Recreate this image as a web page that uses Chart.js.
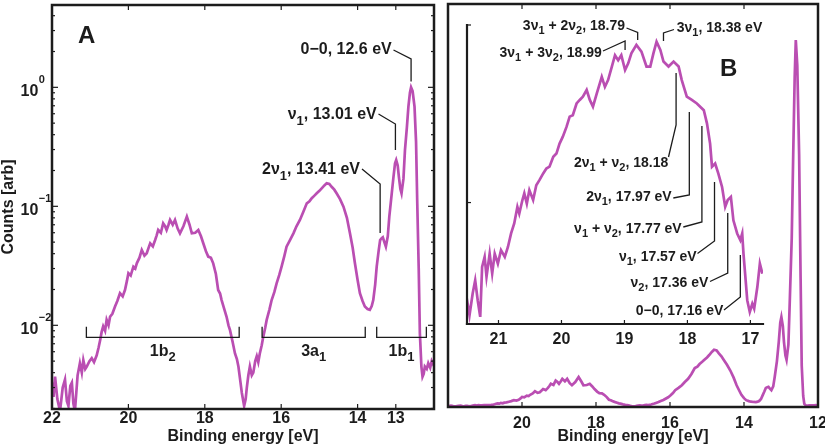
<!DOCTYPE html>
<html><head><meta charset="utf-8">
<script src="https://cdn.jsdelivr.net/npm/chart.js@4/dist/chart.umd.min.js"></script>
<style>
html,body{margin:0;padding:0;background:#fff;}
#wrap{position:relative;width:825px;height:446px;overflow:hidden;}
#wrap canvas{position:absolute;left:0;top:0;}
</style></head><body>
<div id="wrap">
<canvas id="cA" width="825" height="446"></canvas>
<canvas id="cB" width="825" height="446"></canvas>
<canvas id="cI" width="825" height="446"></canvas>
</div>
<script>
// ---------------- data ----------------
const energy = [
 22.00,21.96,21.92,21.86,21.79,21.72,21.66,21.61,21.57,21.52,
 21.48,21.44,21.40,21.33,21.27,21.22,21.18,21.13,21.09,21.02,
 20.96,20.90,20.83,20.78,20.74,20.70,20.66,20.61,20.57,20.52,
 20.48,20.42,20.35,20.29,20.22,20.15,20.09,20.04,20.00,19.94,
 19.87,19.82,19.78,19.71,19.65,19.58,19.52,19.47,19.43,19.36,
 19.30,19.26,19.22,19.15,19.09,19.04,19.00,18.95,18.91,18.84,
 18.78,18.71,18.65,18.56,18.47,18.40,18.34,18.25,18.17,18.10,
 18.04,17.97,17.91,17.84,17.78,17.71,17.65,17.60,17.56,17.50,
 17.43,17.38,17.34,17.27,17.21,17.16,17.12,17.07,17.03,16.97,
 16.93,16.90,16.86,16.82,16.77,16.73,16.68,16.64,16.60,16.56,
 16.51,16.47,16.42,16.38,16.31,16.25,16.18,16.12,16.05,15.99,
 15.92,15.86,15.77,15.68,15.60,15.51,15.42,15.33,15.26,15.20,
 15.13,15.07,15.00,14.94,14.87,14.81,14.74,14.68,14.61,14.55,
 14.46,14.37,14.28,14.20,14.13,14.07,14.00,13.94,13.87,13.81,
 13.74,13.68,13.63,13.59,13.54,13.50,13.45,13.41,13.37,13.34,
 13.30,13.26,13.21,13.17,13.11,13.06,13.02,12.99,12.95,12.92,
 12.88,12.85,12.80,12.76,12.71,12.67,12.63,12.60,12.56,12.51,
 12.47,12.44,12.40,12.37,12.33,12.30,12.27,12.24,12.19,12.15,
 12.10,12.06,12.02,12.00];
const counts = [
 0.0033,0.0025,0.0037,0.0024,0.0019,0.0030,0.0035,0.0023,0.0021,0.0031,
 0.0033,0.0022,0.0019,0.0038,0.0048,0.0040,0.0051,0.0043,0.0045,0.0050,
 0.0053,0.0049,0.0056,0.0065,0.0075,0.0088,0.0098,0.0090,0.0111,0.0100,
 0.0118,0.0125,0.0144,0.0160,0.0186,0.0175,0.0198,0.0235,0.0274,0.0262,
 0.0311,0.0300,0.0332,0.0370,0.0430,0.0385,0.0403,0.0450,0.0489,0.0460,
 0.0521,0.0570,0.0633,0.0600,0.0720,0.0680,0.0633,0.0700,0.0768,0.0700,
 0.0768,0.0650,0.0593,0.0680,0.0819,0.0700,0.0593,0.0600,0.0633,0.0560,
 0.0489,0.0420,0.0378,0.0370,0.0332,0.0270,0.0198,0.0185,0.0163,0.0140,
 0.0118,0.0100,0.0091,0.0072,0.0058,0.0052,0.0045,0.0034,0.0027,0.0021,
 0.0024,0.0030,0.0038,0.0045,0.0038,0.0040,0.0050,0.0055,0.0049,0.0058,
 0.0068,0.0080,0.0095,0.0111,0.0135,0.0163,0.0190,0.0225,0.0265,0.0311,
 0.0380,0.0458,0.0520,0.0593,0.0680,0.0768,0.0900,0.1060,0.1100,0.1170,
 0.1230,0.1286,0.1350,0.1416,0.1500,0.1560,0.1540,0.1460,0.1380,0.1286,
 0.1150,0.0994,0.0800,0.0593,0.0450,0.0332,0.0240,0.0186,0.0160,0.0144,
 0.0137,0.0135,0.0145,0.0163,0.0220,0.0311,0.0420,0.0521,0.0540,0.0549,
 0.0500,0.0458,0.0560,0.0819,0.1250,0.1776,0.2300,0.2450,0.2200,0.1776,
 0.1400,0.1286,0.1700,0.2970,0.4600,0.6880,0.9000,1.0000,0.9300,0.6880,
 0.3500,0.1130,0.0300,0.0086,0.0045,0.0037,0.0039,0.0045,0.0043,0.0048,
 0.0044,0.0050,0.0047,0.0048];

// 1b2 band, high-resolution inset (linear)
const insetEnergy = [
 21.52,21.49,21.46,21.41,21.37,21.33,21.29,21.26,21.22,21.19,
 21.14,21.10,21.06,21.01,20.96,20.90,20.85,20.80,20.75,20.70,
 20.67,20.62,20.59,20.55,20.51,20.45,20.40,20.35,20.29,20.24,
 20.19,20.13,20.08,20.03,19.98,19.92,19.87,19.82,19.76,19.71,
 19.66,19.60,19.55,19.50,19.44,19.36,19.31,19.26,19.20,19.15,
 19.10,19.05,18.99,18.94,18.89,18.81,18.73,18.65,18.59,18.54,
 18.49,18.43,18.38,18.30,18.22,18.14,18.09,18.01,17.93,17.85,
 17.74,17.69,17.64,17.61,17.56,17.51,17.45,17.40,17.36,17.31,
 17.27,17.21,17.16,17.13,17.11,17.08,17.05,17.01,16.97,16.94,
 16.89,16.85,16.81];
const insetCounts = [
 0.0197,0.0215,0.0183,0.0244,0.0281,0.0225,0.0178,0.0319,0.0347,0.0291,
 0.0356,0.0300,0.0356,0.0328,0.0366,0.0347,0.0375,0.0413,0.0441,0.0488,
 0.0469,0.0507,0.0526,0.0497,0.0535,0.0507,0.0549,0.0563,0.0582,0.0596,
 0.0601,0.0629,0.0638,0.0666,0.0685,0.0713,0.0742,0.0746,0.0779,0.0789,
 0.0798,0.0817,0.0789,0.0770,0.0807,0.0854,0.0826,0.0845,0.0883,0.0915,
 0.0901,0.0915,0.0873,0.0892,0.0920,0.0944,0.0925,0.0883,0.0883,0.0920,
 0.0953,0.0930,0.0897,0.0883,0.0897,0.0883,0.0845,0.0798,0.0789,0.0779,
 0.0760,0.0723,0.0666,0.0601,0.0610,0.0582,0.0544,0.0488,0.0507,0.0516,
 0.0450,0.0413,0.0394,0.0413,0.0356,0.0291,0.0225,0.0192,0.0215,0.0201,
 0.0262,0.0328,0.0300];

const ticksA = [22, 20, 18, 16, 14, 13];
const ticksB = [20, 18, 16, 14, 12];
const ticksInset = [21, 20, 19, 18, 17];
const ticksInsetY = [0.05, 0.1];
const decadesA = [-2, -1, 0];

const bandNames = ['1b_2', '3a_1', '1b_1'];
const bandStart = [21.1, 16.5, 13.5];
const bandEnd   = [17.1, 13.8, 12.2];

const peakNamesA = ['0−0, 12.6 eV', 'ν_1, 13.01 eV', '2ν_1, 13.41 eV'];
const peakEnergiesA = [12.6, 13.01, 13.41];

const peakNamesInset = ['3ν_1 + 2ν_2, 18.79', '3ν_1 + 3ν_2, 18.99', '3ν_1, 18.38 eV',
  '2ν_1 + ν_2, 18.18', '2ν_1, 17.97 eV', 'ν_1 + ν_2, 17.77 eV', 'ν_1, 17.57 eV',
  'ν_2, 17.36 eV', '0−0, 17.16 eV'];
const peakEnergiesInset = [18.79, 18.99, 18.38, 18.18, 17.97, 17.77, 17.57, 17.36, 17.16];

// ---------------- styling / layout ----------------
const LINE = 'rgb(186,78,178)';
const INK = '#1c1c1c';
const FONT = "'Liberation Sans', Arial, Helvetica, sans-serif";

// label layout (page px)
const layoutA = [
  {tx:391.7, ty:50,  al:'right', sx:393.5, sy:50,  jy:59,  vy:81.5},
  {tx:376.7, ty:115, al:'right', sx:378.5, sy:114, jy:124, vy:150},
  {tx:360,   ty:170, al:'right', sx:362,   sy:169, jy:184, vy:233}
];
const layoutInset = [
  {tx:625,   ty:26,    al:'right', sx:626.5, sy:28,    jy:32.5, vy:40},
  {tx:601.7, ty:52.7,  al:'right', sx:603,   sy:51,    jy:41,   vy:50},
  {tx:676.7, ty:28,    al:'left',  sx:674,   sy:29.5,  jy:33,   vy:41},
  {tx:668.3, ty:163.3, al:'right', sx:668.5, sy:157,   jy:125,  vy:73},
  {tx:671.7, ty:197.3, al:'right', sx:673.3, sy:198,   jy:195,  vy:112},
  {tx:681.7, ty:229.3, al:'right', sx:683.3, sy:227,   jy:222,  vy:126},
  {tx:696.7, ty:256.7, al:'right', sx:697.5, sy:253.5, jy:241,  vy:182},
  {tx:708.3, ty:283.3, al:'right', sx:710,   sy:281.5, jy:273,  vy:213},
  {tx:723.3, ty:310.7, al:'right', sx:724,   sy:310,   jy:297,  vy:255}
];

function pts(xs, ys){ return xs.map((x,i)=>({x:x, y:ys[i]})); }

function parseRich(s){
  const parts=[]; let buf='';
  for(let i=0;i<s.length;i++){
    if(s[i]==='_'){ if(buf) parts.push([buf,false]); buf=''; parts.push([s[i+1],true]); i++; }
    else buf+=s[i];
  }
  if(buf) parts.push([buf,false]);
  return parts;
}
function drawRich(ctx, s, x, y, align, size, subSize, subDy){
  const parts = parseRich(s);
  const fM = 'bold '+size+'px '+FONT, fS = 'bold '+subSize+'px '+FONT;
  let w=0;
  const ws = parts.map(p=>{ ctx.font = p[1]?fS:fM; const m=ctx.measureText(p[0]).width; w+=m; return m; });
  let cx = align==='right' ? x-w : (align==='center' ? x-w/2 : x);
  ctx.textBaseline='middle'; ctx.textAlign='left'; ctx.fillStyle=INK;
  parts.forEach((p,i)=>{ ctx.font = p[1]?fS:fM; ctx.fillText(p[0], cx, p[1]? y+subDy : y); cx+=ws[i]; });
}
function seg(ctx,x1,y1,x2,y2){ ctx.beginPath(); ctx.moveTo(x1,y1); ctx.lineTo(x2,y2); ctx.stroke(); }
function leader(ctx, L, ex){
  ctx.beginPath(); ctx.moveTo(L.sx, L.sy); ctx.lineTo(ex, L.jy); ctx.lineTo(ex, L.vy); ctx.stroke();
}

const commonX = (min,max,ticks,h,pad) => ({
  type:'linear', reverse:true, min:min, max:max,
  afterBuildTicks: s => { s.ticks = ticks.map(v=>({value:v})); },
  afterFit: s => { s.height = h; s.paddingLeft = 0; s.paddingRight = 0; },
  grid:{display:false, drawTicks:false}, border:{display:false},
  ticks:{color:INK, padding:pad, maxRotation:0, minRotation:0, autoSkip:false,
         font:{family:FONT, size:16, weight:'bold', lineHeight:1}}
});

// ---------------- Panel A ----------------
const plugA = {
  id:'panelA',
  afterDraw(chart){
    const ctx=chart.ctx, a=chart.chartArea, x=chart.scales.x, y=chart.scales.y;
    ctx.save();
    ctx.strokeStyle=INK; ctx.lineCap='butt';
    ctx.lineWidth=1.2;
    ticksA.forEach(v=>{ const px=x.getPixelForValue(v); seg(ctx,px,a.bottom,px,a.bottom-5); seg(ctx,px,a.top,px,a.top+5); });
    for(let k=-3;k<=0;k++){
      for(let m=1;m<=9;m++){
        const v=m*Math.pow(10,k);
        if(v<y.min||v>y.max) continue;
        const py=y.getPixelForValue(v), len = m===1?6:3;
        seg(ctx,a.left,py,a.left+len,py); seg(ctx,a.right,py,a.right-len,py);
      }
    }
    ctx.lineWidth=2.5;
    ctx.strokeRect(a.left, a.top, a.right-a.left, a.bottom-a.top);
    ctx.fillStyle=INK; ctx.textBaseline='middle'; ctx.textAlign='left';
    decadesA.forEach(k=>{
      const py=y.getPixelForValue(Math.pow(10,k));
      ctx.font='bold 16px '+FONT;
      ctx.fillText('10', 20.5, py+4);
      const w=ctx.measureText('10').width;
      ctx.font='bold 11px '+FONT;
      ctx.fillText(k<0 ? '−'+(-k) : String(k), 20.5+w+0.5, py-7);
    });
    ctx.lineWidth=1.3;
    bandNames.forEach((n,i)=>{
      const x1=x.getPixelForValue(bandStart[i]), x2=x.getPixelForValue(bandEnd[i]);
      ctx.beginPath(); ctx.moveTo(x1,326.7); ctx.lineTo(x1,337.3); ctx.lineTo(x2,337.3); ctx.lineTo(x2,326.7); ctx.stroke();
      drawRich(ctx, n, (x1+x2)/2, 351.7, 'center', 16, 13, 6);
    });
    peakNamesA.forEach((n,i)=>{
      const L=layoutA[i];
      drawRich(ctx, n, L.tx, L.ty, L.al, 16, 13, 6);
      leader(ctx, L, x.getPixelForValue(peakEnergiesA[i]));
    });
    ctx.font='bold 24px '+FONT; ctx.textBaseline='alphabetic'; ctx.textAlign='left';
    ctx.fillText('A', 78, 42.5);
    ctx.restore();
  }
};

new Chart(document.getElementById('cA'), {
  type:'line',
  data:{datasets:[{data:pts(energy,counts), borderColor:LINE, borderWidth:2.7, pointRadius:0, tension:0, fill:false}]},
  options:{
    responsive:false, animation:false, devicePixelRatio:1,
    layout:{padding:{left:0, top:5, right:391, bottom:0}},
    plugins:{legend:{display:false}, tooltip:{enabled:false}},
    scales:{
      x: Object.assign(commonX(12,22,ticksA,37,2), {
        title:{display:true, text:'Binding energy [eV]', color:INK, padding:{top:0,bottom:0},
               font:{family:FONT, size:16, weight:'bold', lineHeight:1.2}}}),
      y:{type:'logarithmic', min:0.00198, max:4.92,
         afterFit: s=>{ s.width=52; s.paddingTop=0; s.paddingBottom=0; },
         grid:{display:false}, border:{display:false}, ticks:{display:false},
         title:{display:true, text:'Counts [arb]', color:INK, padding:{top:-1,bottom:0},
                font:{family:FONT, size:16, weight:'bold', lineHeight:1.2}}}
    }
  },
  plugins:[plugA]
});

// ---------------- Panel B ----------------
const plugB = {
  id:'panelB',
  afterDraw(chart){
    const ctx=chart.ctx, a=chart.chartArea, x=chart.scales.x;
    ctx.save();
    ctx.strokeStyle=INK; ctx.lineWidth=1.2;
    ticksB.forEach(v=>{ const px=x.getPixelForValue(v); seg(ctx,px,a.bottom,px,a.bottom-5); seg(ctx,px,a.top,px,a.top+5); });
    ctx.lineWidth=2.5;
    ctx.strokeRect(a.left, a.top, a.right-a.left, a.bottom-a.top);
    ctx.fillStyle=INK; ctx.font='bold 24px '+FONT; ctx.textBaseline='alphabetic'; ctx.textAlign='left';
    ctx.fillText('B', 720, 75.5);
    ctx.restore();
  }
};
new Chart(document.getElementById('cB'), {
  type:'line',
  data:{datasets:[{data:pts(energy,counts), borderColor:LINE, borderWidth:2.7, pointRadius:0, tension:0, fill:false}]},
  options:{
    responsive:false, animation:false, devicePixelRatio:1,
    layout:{padding:{left:448, top:4, right:7, bottom:0}},
    plugins:{legend:{display:false}, tooltip:{enabled:false}},
    scales:{
      x: Object.assign(commonX(12,22,ticksB,39,9), {
        title:{display:true, text:'Binding energy [eV]', color:INK, padding:{top:0,bottom:0},
               font:{family:FONT, size:16, weight:'bold', lineHeight:1.2}}}),
      y:{type:'linear', min:0, max:1.098, display:false}
    }
  },
  plugins:[plugB]
});

// ---------------- Inset ----------------
const plugI = {
  id:'inset',
  afterDraw(chart){
    const ctx=chart.ctx, a=chart.chartArea, x=chart.scales.x, y=chart.scales.y;
    ctx.save();
    ctx.strokeStyle=INK; ctx.lineWidth=2.2; ctx.lineCap='square';
    seg(ctx,a.left,a.top,a.left,a.bottom); seg(ctx,a.left,a.bottom,a.right,a.bottom);
    ctx.lineCap='butt'; ctx.lineWidth=1.2;
    ticksInset.forEach(v=>{ const px=x.getPixelForValue(v); seg(ctx,px,a.bottom,px,a.bottom-4); });
    ticksInsetY.forEach(v=>{ const py=y.getPixelForValue(v); seg(ctx,a.left,py,a.left+4,py); });
    ctx.lineWidth=1.3;
    peakNamesInset.forEach((n,i)=>{
      const L=layoutInset[i];
      drawRich(ctx, n, L.tx, L.ty, L.al, 14, 11, 5);
      leader(ctx, L, x.getPixelForValue(peakEnergiesInset[i]));
    });
    ctx.restore();
  }
};
new Chart(document.getElementById('cI'), {
  type:'line',
  data:{datasets:[{data:pts(insetEnergy,insetCounts), borderColor:LINE, borderWidth:2.7, pointRadius:0, tension:0, fill:false}]},
  options:{
    responsive:false, animation:false, devicePixelRatio:1,
    layout:{padding:{left:467, top:25, right:62, bottom:0}},
    plugins:{legend:{display:false}, tooltip:{enabled:false}},
    scales:{
      x: commonX(16.8,21.5,ticksInset,122,8),
      y:{type:'linear', min:0.0158, max:0.1, display:false}
    }
  },
  plugins:[plugI]
});
</script>
</body></html>
